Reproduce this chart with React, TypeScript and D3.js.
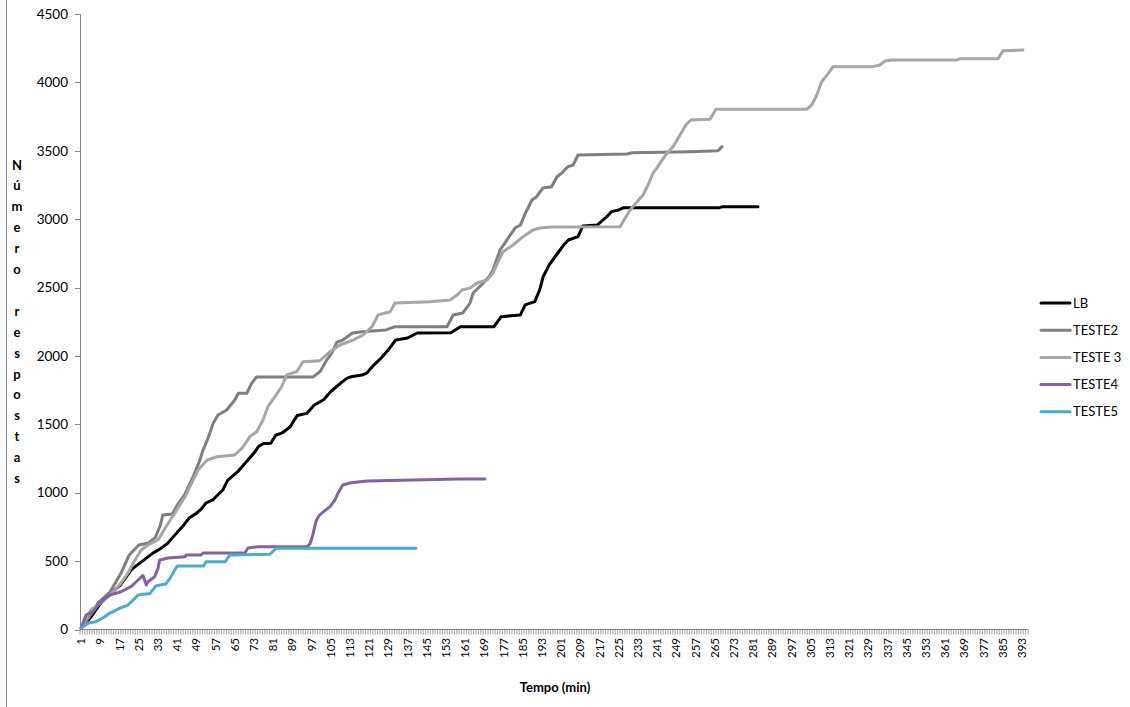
import React from "react";
import * as d3 from "d3";

// category index (minutes) and cumulative responses
const LB: [number, number][] = [
  [1, 10], [5, 90], [9, 190], [13, 260], [17, 320], [20, 390], [22, 440], [25, 480], [28, 520],
  [31, 560], [34, 590], [37, 630], [40, 690], [44, 770], [46, 815], [49, 850], [51, 880],
  [53, 925], [56, 950], [60, 1020], [62, 1090], [66, 1150], [70, 1230], [73, 1290], [75, 1340],
  [77, 1360], [80, 1362], [82, 1420], [85, 1440], [88, 1480], [91, 1565], [95, 1580],
  [98, 1640], [102, 1680], [105, 1740], [109, 1800], [112, 1840], [114, 1850], [118, 1860],
  [120, 1875], [123, 1935], [126, 1985], [129, 2045], [132, 2116], [137, 2131], [141, 2168],
  [155, 2170], [159, 2214], [173, 2214], [176, 2287], [184, 2300], [186, 2373], [190, 2397],
  [192, 2482], [193.5, 2580], [196, 2665], [199, 2738], [202, 2811], [204, 2848], [208, 2872],
  [210, 2950], [216, 2957], [220, 3018], [222, 3055], [225, 3067], [227, 3084], [267, 3084],
  [268, 3090], [283, 3090],
];

const TESTE2: [number, number][] = [
  [1, 10], [5, 110], [8, 194], [13, 274], [17.6, 413], [21, 545], [25, 618], [29, 632],
  [32, 676], [34, 764], [35, 837], [39, 845], [41, 910], [44, 983], [47.6, 1115], [50.5, 1240],
  [51.5, 1300], [54, 1405], [56, 1508], [58, 1568], [61.6, 1605], [65, 1678], [66.5, 1727],
  [70, 1727], [72, 1800], [74, 1846], [97.6, 1846], [100.5, 1885], [103.3, 1970],
  [105.4, 2021], [107.5, 2100], [110, 2116], [114, 2168], [118, 2177], [128, 2190],
  [131.75, 2214], [153.4, 2214], [156, 2300], [160, 2314], [163, 2387], [164.3, 2460],
  [167, 2506], [171, 2580], [172.6, 2628], [175.5, 2774], [178.4, 2848], [181.75, 2935],
  [184, 2957], [186, 3040], [188.8, 3140], [190.5, 3160], [193.4, 3228], [197, 3237],
  [199.25, 3310], [201.3, 3337], [203.8, 3384], [206, 3396], [208, 3469], [228.4, 3477],
  [230.5, 3486], [254.7, 3493], [266.3, 3500], [268, 3530],
];

const TESTE3: [number, number][] = [
  [1, 10], [5, 143], [8, 179], [13, 252], [17.6, 340], [20.5, 413], [23.4, 508], [26, 581],
  [28.8, 618], [33, 655], [36, 742], [40, 852], [44.25, 969], [46.3, 1044], [49.7, 1166],
  [53.5, 1239], [57.5, 1263], [65, 1276], [68, 1325], [71.3, 1410], [74.1, 1446],
  [76.75, 1532], [78.8, 1629], [81.75, 1702], [84.5, 1775], [86.6, 1861], [90.8, 1885],
  [93.4, 1958], [100.5, 1965], [104.7, 2031], [108.8, 2080], [114.25, 2116], [118.4, 2153],
  [122.2, 2214], [124.7, 2300], [129.7, 2323], [131.75, 2387], [146.3, 2397], [154.7, 2409],
  [157.6, 2445], [159.7, 2482], [163, 2497], [165.9, 2533], [170.1, 2555], [172.6, 2606],
  [174.7, 2689], [176.75, 2762], [180.9, 2811], [185.1, 2872], [189.25, 2921], [192.2, 2935],
  [197, 2943], [225.5, 2945], [226.75, 2981], [229.7, 3067], [232.6, 3128], [235.1, 3177],
  [237.2, 3250], [239.25, 3337], [240.9, 3374], [242.2, 3410], [245.1, 3483], [247.6, 3530],
  [249.75, 3593], [251.75, 3652], [253, 3690], [255, 3725], [263, 3730], [265.5, 3803],
  [303.3, 3803], [305.4, 3835], [307.5, 3908], [309.5, 4005], [312.3, 4066], [314.25, 4115],
  [330.9, 4115], [333.8, 4127], [335.9, 4156], [338.7, 4163], [365.8, 4163], [367.2, 4173],
  [383, 4173], [385.1, 4232], [393.4, 4237],
];

const TESTE4: [number, number][] = [
  [1, 10], [3, 106], [6, 130], [8, 179], [10, 216], [13, 252], [17.6, 276], [21.75, 313],
  [24.7, 362], [26.75, 395], [27.4, 362], [28.1, 325], [28.8, 349], [31.6, 386], [33, 447],
  [33.7, 508], [37.2, 523], [44.25, 532], [44.7, 545], [50.9, 545], [51.75, 559], [62.2, 559],
  [69.25, 561], [70.5, 596], [74.7, 605], [95, 605], [96.3, 625], [97.5, 690], [98.8, 790],
  [100, 830], [101.9, 861], [104.7, 898], [106.75, 947], [108, 998], [110, 1056], [113, 1071],
  [116.3, 1078], [120.1, 1086], [139.25, 1093], [158.8, 1100], [169.25, 1100],
];

const TESTE5: [number, number][] = [
  [1, 10], [4, 47], [7, 57], [10, 84], [13, 120], [17, 155], [20.5, 179], [23.3, 228],
  [24.7, 252], [29.7, 264], [32.2, 320], [36.3, 333], [38, 374], [40, 435], [41, 464],
  [52, 464], [53, 496], [61, 496], [63, 545], [79.5, 550], [82.3, 594], [140.5, 594],
];

const seriesNames = ["LB", "TESTE2", "TESTE 3", "TESTE4", "TESTE5"];
const seriesData = [LB, TESTE2, TESTE3, TESTE4, TESTE5];
const seriesColors = ["#000000", "#7f7f7f", "#a6a6a6", "#8064a2", "#4bacc6"];

const yTicks = [0, 500, 1000, 1500, 2000, 2500, 3000, 3500, 4000, 4500];
const xTickLabels = d3.range(1, 394, 8);
const nCategories = 395;
const yTitle = ["N", "ú", "m", "e", "r", "o", "", "r", "e", "s", "p", "o", "s", "t", "a", "s"];

const FONT = "Lato, Carlito, Calibri, 'Open Sans', sans-serif";

export default function App() {
  const x = d3.scaleLinear().domain([0.5, nCategories + 0.5]).range([80, 1028]);
  const y = d3.scaleLinear().domain([0, 4500]).range([629.5, 14]);
  const line = d3
    .line<[number, number]>()
    .x((d) => x(d[0]))
    .y((d) => y(d[1]))
    .curve(d3.curveLinear);

  const boundaries = d3.range(0, nCategories + 1);
  const axisColor = "#868686";

  return (
    <svg
      width={1130}
      height={707}
      style={{ position: "absolute", left: 0, top: 0, background: "#fff" }}
      fontFamily={FONT}
    >
      <rect x={0} y={0} width={1130} height={707} fill="#fff" />
      {/* chart border (left edge) */}
      <line x1={6.5} x2={6.5} y1={0} y2={707} stroke="#8c8c8c" strokeWidth={1} />

      {/* y axis */}
      <line x1={80.5} x2={80.5} y1={y(4500)} y2={y(0)} stroke={axisColor} strokeWidth={1} />
      {yTicks.map((t) => (
        <g key={t}>
          <line x1={75} x2={80.5} y1={Math.round(y(t)) + 0.5} y2={Math.round(y(t)) + 0.5} stroke={axisColor} />
          <text x={68} y={y(t)} dy="0.35em" textAnchor="end" fontSize={13.5} fill="#000">
            {t}
          </text>
        </g>
      ))}

      {/* x axis */}
      <line x1={x(0.5)} x2={x(nCategories + 0.5)} y1={629.5} y2={629.5} stroke={axisColor} strokeWidth={1} />
      {boundaries.map((b) => (
        <line
          key={b}
          x1={x(b + 0.5)}
          x2={x(b + 0.5)}
          y1={629.5}
          y2={634.5}
          stroke={axisColor}
          strokeWidth={0.8}
        />
      ))}
      {xTickLabels.map((c) => (
        <text
          key={c}
          transform={`translate(${x(c)},${638}) rotate(-90)`}
          textAnchor="end"
          dy="0.35em"
          fontSize={11.5}
          fill="#000"
        >
          {c}
        </text>
      ))}

      {/* axis titles */}
      <text x={555} y={692} textAnchor="middle" fontSize={13} fontWeight="bold" fill="#000">
        Tempo (min)
      </text>
      {yTitle.map((ch, i) => (
        <text
          key={i}
          x={17}
          y={165 + i * 20.9}
          dy="0.35em"
          textAnchor="middle"
          fontSize={13}
          fontWeight="bold"
          fill="#000"
        >
          {ch}
        </text>
      ))}

      {/* series */}
      {seriesData.map((s, i) => (
        <path
          key={seriesNames[i]}
          d={line(s) || ""}
          fill="none"
          stroke={seriesColors[i]}
          strokeWidth={3}
          strokeLinejoin="round"
          strokeLinecap="round"
        />
      ))}

      {/* legend */}
      {seriesNames.map((n, i) => {
        const ly = 303 + i * 27.2;
        return (
          <g key={n}>
            <line x1={1041} x2={1070} y1={ly} y2={ly} stroke={seriesColors[i]} strokeWidth={3} strokeLinecap="round" />
            <text x={1073} y={ly} dy="0.35em" fontSize={13} fill="#000">
              {n}
            </text>
          </g>
        );
      })}
    </svg>
  );
}
